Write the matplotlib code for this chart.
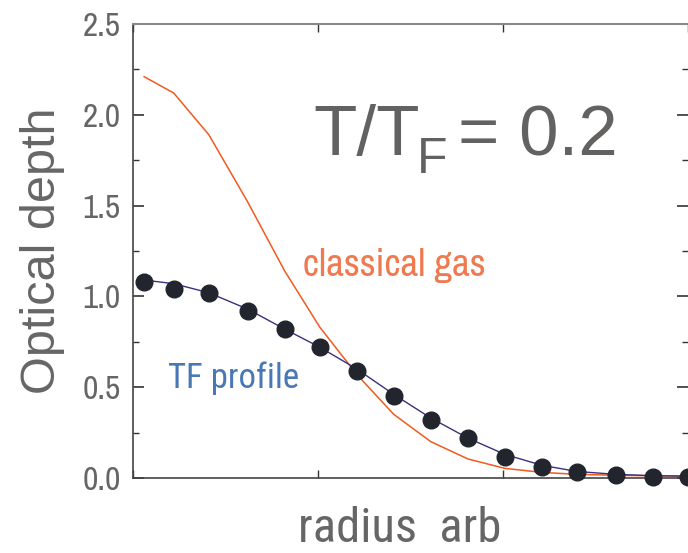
import matplotlib
matplotlib.use("Agg")
import matplotlib.pyplot as plt
from matplotlib.ticker import MultipleLocator, NullFormatter

narrow = ['Archivo Narrow', 'Liberation Sans', 'DejaVu Sans']
cond = ['Roboto Condensed', 'Liberation Sans', 'DejaVu Sans']
regular = ['Liberation Sans', 'DejaVu Sans']
plt.rcParams['font.family'] = narrow

# measured points (dots)
radius = [0.06, 0.22, 0.41, 0.62, 0.82, 1.01, 1.21, 1.41, 1.61, 1.81, 2.01, 2.21, 2.40, 2.61, 2.81, 3.0]
depth = [1.08, 1.04, 1.02, 0.92, 0.82, 0.72, 0.59, 0.45, 0.32, 0.22, 0.114, 0.062, 0.033, 0.017, 0.008, 0.008]

# Thomas-Fermi fit
tf_fit = [1.09, 1.07, 1.02, 0.93, 0.82, 0.72, 0.60, 0.46, 0.33, 0.22, 0.13, 0.07, 0.036, 0.02, 0.013, 0.01]

# classical gas profile
classical = [2.21, 2.12, 1.89, 1.52, 1.14, 0.83, 0.57, 0.35, 0.20, 0.105, 0.053, 0.031, 0.02, 0.015, 0.012, 0.01]

gray = "#666666"

fig = plt.figure(figsize=(6.88, 5.53), dpi=100)
ax = fig.add_axes([133 / 688, 1 - 478 / 553, 555 / 688, 454 / 553])

ax.plot(radius, classical, color="#f05a1e", lw=1.1, zorder=2)
ax.plot(radius, tf_fit, color="#3b2f80", lw=1.0, zorder=3)
ax.plot(radius, depth, "o", color="#22252e", ms=12, zorder=4, clip_on=False)

ax.set_xlim(0, 3.0)
ax.set_ylim(0, 2.5)

ax.yaxis.set_major_locator(MultipleLocator(0.5))
ax.yaxis.set_minor_locator(MultipleLocator(0.25))
ax.xaxis.set_major_locator(MultipleLocator(1.0))
ax.xaxis.set_major_formatter(NullFormatter())
ax.tick_params(axis="both", which="both", direction="in", top=True, right=True,
               color="#333333")
ax.tick_params(axis="y", which="major", length=8, width=1.2, labelsize=24,
               labelcolor=gray, pad=9)
ax.tick_params(axis="y", which="minor", length=4, width=1)
ax.tick_params(axis="x", which="major", length=6, width=1)

for side in ["left", "bottom"]:
    ax.spines[side].set_color("#444444")
    ax.spines[side].set_linewidth(1.2)
ax.spines["top"].set_color("#888888")
ax.spines["top"].set_linewidth(1.5)
ax.spines["right"].set_visible(False)

ax.set_xlabel("radius  arb", fontsize=35, color=gray, family=cond)
ax.xaxis.set_label_coords(0.481, -0.062)
ax.set_ylabel("Optical depth", fontsize=35, color=gray, labelpad=12, family=regular)

# T/T_F = 0.2, built from pieces so the subscript sits low like the original
ax.annotate("T/T", (313, 553 - 155), xycoords="figure pixels", va="baseline",
            fontsize=51, color="#646260", family=regular)
ax.annotate("F", (417, 553 - 173), xycoords="figure pixels", va="baseline",
            fontsize=36, color="#646260", family=regular)
ax.annotate("= 0.2", (458, 553 - 155), xycoords="figure pixels", va="baseline",
            fontsize=51, color="#646260", family=regular)

ax.annotate("classical gas", (303, 553 - 276), xycoords="figure pixels",
            va="baseline", fontsize=28, color="#f07a50")
ax.annotate("TF profile", (168, 553 - 388), xycoords="figure pixels",
            va="baseline", fontsize=25, color="#4a78b4", family=cond)

fig.savefig("out.png", dpi=100)
